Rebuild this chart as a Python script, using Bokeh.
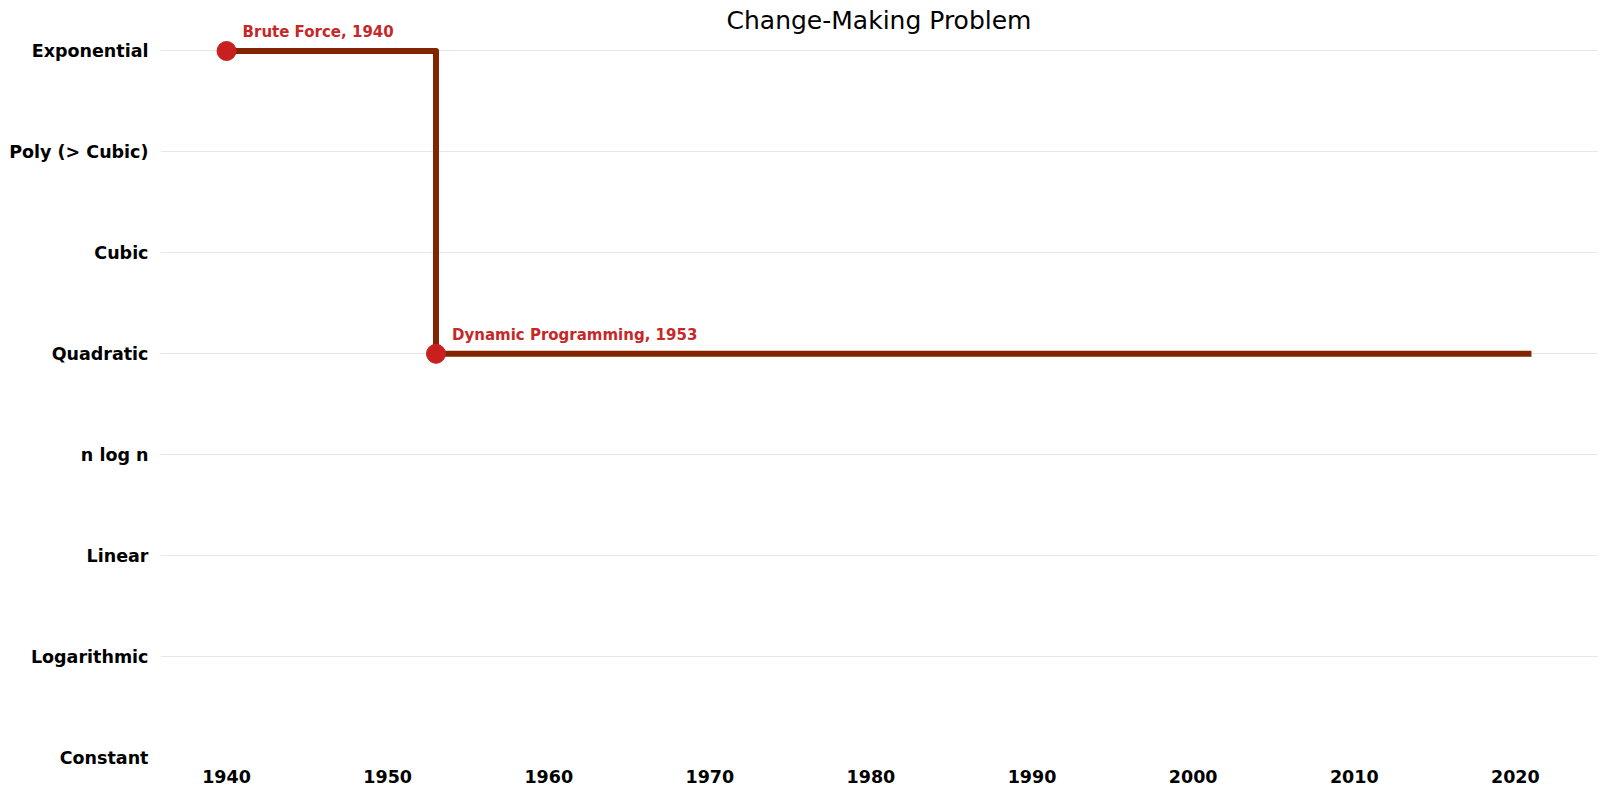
from bokeh.plotting import figure
from bokeh.models import ColumnDataSource, LabelSet, Label, FixedTicker, Range1d
from bokeh.core.properties import value
from bokeh.embed import file_html
from bokeh.resources import INLINE

# Data
levels = ["Constant", "Logarithmic", "Linear", "n log n", "Quadratic",
          "Cubic", "Poly (> Cubic)", "Exponential"]
alg_names = ["Brute Force", "Dynamic Programming"]
alg_years = [1940, 1953]
alg_levels = [7, 4]
end_year = 2021
x_ticks = [1940, 1950, 1960, 1970, 1980, 1990, 2000, 2010, 2020]
title_text = "Change-Making Problem"

FONT = "DejaVu Sans"
X0, X1 = 1935.9, 2025.1
Y0, Y1 = 0, 7.5

p = figure(width=1605, height=795, output_backend="svg", toolbar_location=None,
           x_range=Range1d(X0, X1), y_range=Range1d(Y0, Y1),
           min_border_left=160, min_border_right=8, min_border_top=0,
           min_border_bottom=38)
p.outline_line_color = None
p.background_fill_color = "white"
p.border_fill_color = "white"

p.xgrid.grid_line_color = None
p.ygrid.grid_line_color = "#e6e6e6"
p.ygrid.grid_line_width = 1

p.xaxis.ticker = FixedTicker(ticks=x_ticks)
p.yaxis.ticker = FixedTicker(ticks=list(range(len(levels))))
p.yaxis.major_label_overrides = {i: s for i, s in enumerate(levels)}
for ax in (p.xaxis, p.yaxis):
    ax.axis_line_color = None
    ax.major_tick_line_color = None
    ax.minor_tick_line_color = None
    ax.major_label_text_font = FONT
    ax.major_label_text_font_style = "bold"
    ax.major_label_text_font_size = "17.5px"
    ax.major_label_text_color = "#000000"
p.yaxis.major_label_standoff = 6
p.xaxis.major_label_standoff = 6

step_x = alg_years + [end_year]
step_y = alg_levels + [alg_levels[-1]]
p.step(step_x, step_y, mode="after", line_color="#832400", line_width=6,
       line_join="round")

src = ColumnDataSource(dict(
    x=alg_years, y=alg_levels,
    label=[f"{n}, {y}" for n, y in zip(alg_names, alg_years)]))
p.scatter("x", "y", source=src, size=19, fill_color="#C8201F",
          line_color="#C8201F")
labels = LabelSet(x="x", y="y", text="label", source=src, x_offset=16,
                  y_offset=19, text_font=value(FONT), text_font_style="bold",
                  text_font_size="15px", text_color="#C62828",
                  text_baseline="middle")
p.add_layout(labels)

title = Label(x=(X0 + X1) / 2, y=7.3, text=title_text, text_font=FONT,
              text_font_size="25px", text_align="center",
              text_baseline="middle", text_color="#000000")
p.add_layout(title)

open("out.html", "w").write(file_html(p, INLINE))
